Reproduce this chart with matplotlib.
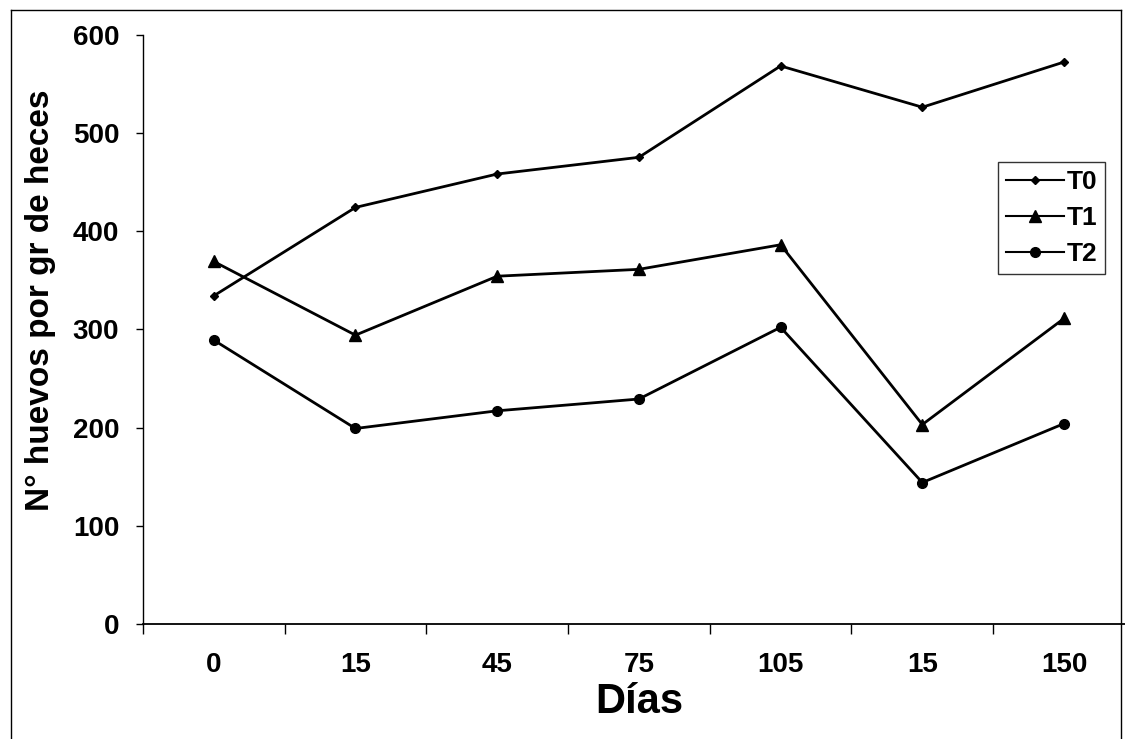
import matplotlib
matplotlib.use('Agg')
import matplotlib.pyplot as plt
from matplotlib.lines import Line2D

# Data
dias = ['0', '15', '45', '75', '105', '15', '150']
t0 = [334, 424, 458, 475, 568, 526, 572]
t1 = [369, 294, 354, 361, 386, 203, 311]
t2 = [289, 199, 217, 229, 302, 144, 204]
y_ticks = [0, 100, 200, 300, 400, 500, 600]

plt.rcParams['font.family'] = ['Liberation Sans', 'DejaVu Sans']
plt.rcParams['font.weight'] = 'bold'

fig = plt.figure(figsize=(11.25, 7.39), dpi=100)
ax = fig.add_axes([0.127, 0.1556, 0.8818, 0.7977])

x = range(len(dias))
ax.plot(x, t0, color='black', lw=2, marker='D', ms=4, label='T0')
ax.plot(x, t1, color='black', lw=2, marker='^', ms=8, label='T1')
ax.plot(x, t2, color='black', lw=2, marker='o', ms=7, label='T2')

ax.set_xlim(-0.5, len(dias) - 0.5)
ax.set_ylim(0, 600)
ax.set_yticks(y_ticks)
ax.set_xticks(list(x))
ax.set_xticklabels(dias)
ax.set_xticks([i - 0.5 for i in range(len(dias) + 1)], minor=True)
ax.tick_params(axis='x', which='major', length=0, pad=20, labelsize=20)
ax.tick_params(axis='x', which='minor', length=7, width=1, direction='out')
ax.tick_params(axis='y', length=5, width=1, pad=12, labelsize=20)
for lbl in ax.get_xticklabels() + ax.get_yticklabels():
    lbl.set_fontweight('bold')

ax.spines['top'].set_visible(False)
ax.spines['right'].set_visible(False)
ax.spines['left'].set_linewidth(1)
ax.spines['bottom'].set_linewidth(1.3)

ax.set_xlabel('Días', fontsize=30, fontweight='bold', labelpad=3)
fig.text(0.036, 0.594, 'N° huevos por gr de heces', rotation=90,
         fontsize=24, fontweight='bold', ha='center', va='center')

leg = ax.legend(loc='upper left', bbox_to_anchor=(0.862, 0.783),
                frameon=True, fancybox=False, edgecolor='black',
                fontsize=19, handlelength=2.2, handletextpad=0.1,
                borderpad=0.3, labelspacing=0.45, borderaxespad=0)
leg.get_frame().set_linewidth(1)
for t in leg.get_texts():
    t.set_fontweight('bold')
for h in leg.legend_handles:
    h.set_linewidth(1.5)

# outer frame of the scanned chart
for xs, ys in [([11, 11], [0, 729]), ([11, 1121], [729, 729]), ([1121, 1121], [0, 729])]:
    fig.add_artist(Line2D([v / 1125 for v in xs], [v / 739 for v in ys],
                          color='black', lw=1, transform=fig.transFigure))

plt.savefig('out.png', dpi=100)
plt.close(fig)
